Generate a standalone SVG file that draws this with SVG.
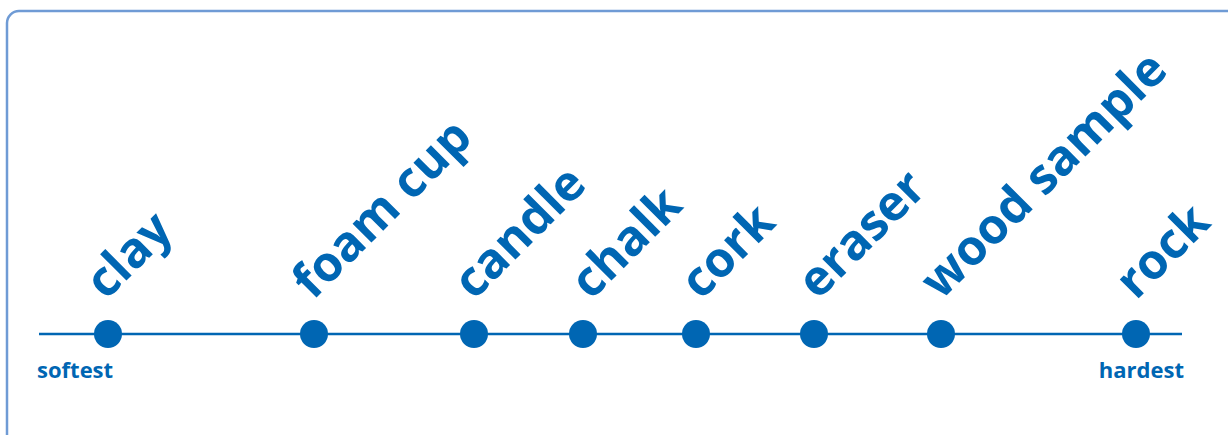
<svg xmlns="http://www.w3.org/2000/svg" width="1228" height="435" viewBox="0 0 1228 435">
<style>
.frame{fill:none;stroke:#6F9BD5;stroke-width:2.5}
.axis{stroke:#0066B3;stroke-width:2.5}
.dot{fill:#0066B3}
.lbl{font-family:"Open Sans","Noto Sans",sans-serif;font-weight:bold;font-size:49px;fill:#0066B3}
.end{font-family:"Open Sans","Noto Sans",sans-serif;font-weight:bold;font-size:22px;fill:#0066B3}
</style>
<rect class="frame" x="7" y="11" width="1240" height="440" rx="12"/>
<g id="connectors">
<line class="axis" x1="39" y1="334" x2="1182" y2="334"/>
</g>
<g id="clay"><circle class="dot" cx="108" cy="334" r="14"/><text class="lbl" transform="translate(106,301) rotate(-45)">clay</text></g>
<g id="foam-cup"><circle class="dot" cx="314" cy="334" r="14"/><text class="lbl" transform="translate(313,301) rotate(-45)">foam cup</text></g>
<g id="candle"><circle class="dot" cx="474" cy="334" r="14"/><text class="lbl" transform="translate(474,301) rotate(-45)">candle</text></g>
<g id="chalk"><circle class="dot" cx="583" cy="334" r="14"/><text class="lbl" transform="translate(591,301) rotate(-45)">chalk</text></g>
<g id="cork"><circle class="dot" cx="696" cy="334" r="14"/><text class="lbl" transform="translate(701,301) rotate(-45)">cork</text></g>
<g id="eraser"><circle class="dot" cx="814" cy="334" r="14"/><text class="lbl" transform="translate(818,301) rotate(-45)">eraser</text></g>
<g id="wood-sample"><circle class="dot" cx="941" cy="334" r="14"/><text class="lbl" transform="translate(941,301) rotate(-45)">wood sample</text></g>
<g id="rock"><circle class="dot" cx="1136" cy="334" r="14"/><text class="lbl" transform="translate(1136,301) rotate(-45)">rock</text></g>
<g id="softest"><text class="end" x="37" y="378">softest</text></g>
<g id="hardest"><text class="end" x="1184" y="378" text-anchor="end">hardest</text></g>
</svg>
